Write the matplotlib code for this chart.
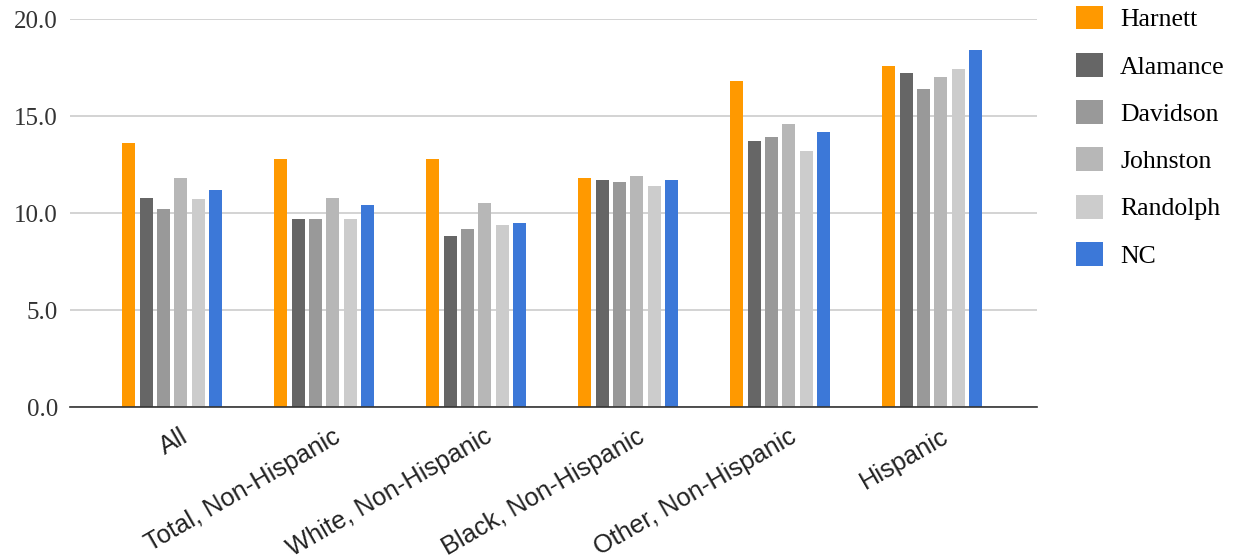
import numpy as np
import matplotlib
matplotlib.use('Agg')
import matplotlib.pyplot as plt
import matplotlib.transforms as mtransforms
from matplotlib.patches import Patch

# data
CATEGORIES = ['All', 'Total, Non-Hispanic', 'White, Non-Hispanic',
              'Black, Non-Hispanic', 'Other, Non-Hispanic', 'Hispanic']
SERIES = ['Harnett', 'Alamance', 'Davidson', 'Johnston', 'Randolph', 'NC']
HARNETT = [13.6, 12.8, 12.8, 11.8, 16.8, 17.6]
ALAMANCE = [10.8, 9.7, 8.8, 11.7, 13.7, 17.2]
DAVIDSON = [10.2, 9.7, 9.2, 11.6, 13.9, 16.4]
JOHNSTON = [11.8, 10.8, 10.5, 11.9, 14.6, 17.0]
RANDOLPH = [10.7, 9.7, 9.4, 11.4, 13.2, 17.4]
NC = [11.2, 10.4, 9.5, 11.7, 14.2, 18.4]
COLORS = ['#ff9900', '#666666', '#999999', '#b7b7b7', '#cccccc', '#3c78d8']
YTICKS = [0, 5, 10, 15, 20]

OUT = 'out.png'


def main():
	values = [HARNETT, ALAMANCE, DAVIDSON, JOHNSTON, RANDOLPH, NC]
	fig = plt.figure(figsize=(12.33, 5.6), dpi=100)
	ax = fig.add_axes([0.057, 0.273, 0.784, 0.693])

	x = np.arange(len(CATEGORIES))
	pitch = 0.114
	width = 0.085
	for i, (vals, col) in enumerate(zip(values, COLORS)):
		off = (i - 2.5) * pitch
		ax.bar(x + off, vals, width=width, color=col, zorder=3)

	ax.set_xlim(-0.67, 5.69)
	ax.set_ylim(0, 20)
	ax.set_yticks(YTICKS)
	ax.set_yticklabels(['%.1f' % v for v in YTICKS],
		fontfamily='Liberation Serif', fontsize=18, color='#333333')
	ax.yaxis.grid(True, color='#cccccc', linewidth=1.2, zorder=0)
	ax.tick_params(axis='y', length=0, pad=9)
	ax.tick_params(axis='x', length=0, pad=20)
	ax.set_xticks(x)
	ax.set_xticklabels(CATEGORIES, rotation=30, ha='right', va='center',
		rotation_mode='anchor', fontfamily='Liberation Sans', fontsize=18.3,
		color='#222222')
	# shift labels a little to the right, like the original
	shift = mtransforms.ScaledTranslation(14 / 100, 0, fig.dpi_scale_trans)
	for lab in ax.get_xticklabels():
		lab.set_transform(lab.get_transform() + shift)
	for s in ['top', 'right', 'left']:
		ax.spines[s].set_visible(False)
	ax.spines['bottom'].set_color('#333333')
	ax.spines['bottom'].set_linewidth(1.2)
	ax.spines['bottom'].set_zorder(4)

	handles = [Patch(facecolor=c, edgecolor='none') for c in COLORS]
	fig.legend(handles, SERIES, loc='upper left', bbox_to_anchor=(0.873, 0.99),
		frameon=False, borderpad=0, borderaxespad=0,
		handlelength=1.05, handleheight=1.05, labelspacing=0.84,
		handletextpad=0.65, prop={'family': 'Liberation Serif', 'size': 18.5})

	fig.savefig(OUT, dpi=100)
	plt.close(fig)


if __name__ == '__main__':
	main()
